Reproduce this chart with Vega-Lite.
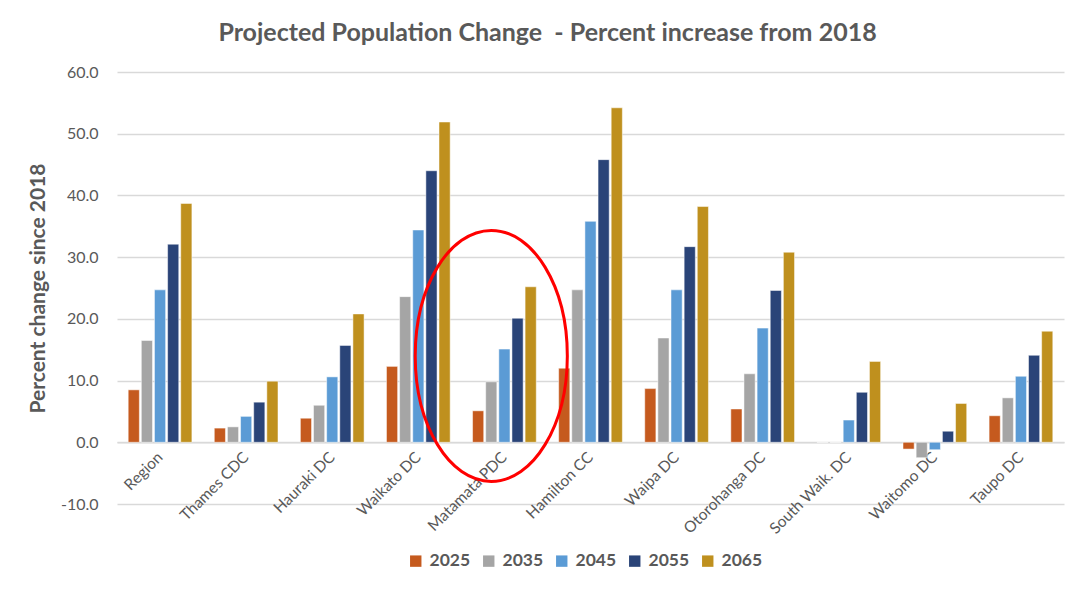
{
  "$schema": "https://vega.github.io/schema/vega-lite/v6.json",
  "width": 947,
  "height": 432,
  "autosize": {"type": "none"},
  "padding": {"left": 117, "top": 72, "right": 5, "bottom": 97},
  "background": "white",
  "title": {
    "text": "Projected Population Change \u00a0- Percent increase from 2018",
    "font": "Lato",
    "fontSize": 25,
    "fontWeight": "bold",
    "color": "#595959",
    "anchor": "middle",
    "dx": -43,
    "offset": 18
  },
  "config": {
    "view": {"stroke": null},
    "font": "Lato"
  },
  "datasets": {
    "pop": [
      {"region": "Region", "year": "2025", "value": 8.5},
      {"region": "Region", "year": "2035", "value": 16.5},
      {"region": "Region", "year": "2045", "value": 24.7},
      {"region": "Region", "year": "2055", "value": 32.1},
      {"region": "Region", "year": "2065", "value": 38.7},
      {"region": "Thames CDC", "year": "2025", "value": 2.3},
      {"region": "Thames CDC", "year": "2035", "value": 2.5},
      {"region": "Thames CDC", "year": "2045", "value": 4.2},
      {"region": "Thames CDC", "year": "2055", "value": 6.5},
      {"region": "Thames CDC", "year": "2065", "value": 9.9},
      {"region": "Hauraki DC", "year": "2025", "value": 3.9},
      {"region": "Hauraki DC", "year": "2035", "value": 6.0},
      {"region": "Hauraki DC", "year": "2045", "value": 10.6},
      {"region": "Hauraki DC", "year": "2055", "value": 15.7},
      {"region": "Hauraki DC", "year": "2065", "value": 20.8},
      {"region": "Waikato DC", "year": "2025", "value": 12.3},
      {"region": "Waikato DC", "year": "2035", "value": 23.6},
      {"region": "Waikato DC", "year": "2045", "value": 34.4},
      {"region": "Waikato DC", "year": "2055", "value": 44.0},
      {"region": "Waikato DC", "year": "2065", "value": 51.9},
      {"region": "Matamata PDC", "year": "2025", "value": 5.1},
      {"region": "Matamata PDC", "year": "2035", "value": 9.8},
      {"region": "Matamata PDC", "year": "2045", "value": 15.1},
      {"region": "Matamata PDC", "year": "2055", "value": 20.1},
      {"region": "Matamata PDC", "year": "2065", "value": 25.2},
      {"region": "Hamilton CC", "year": "2025", "value": 12.0},
      {"region": "Hamilton CC", "year": "2035", "value": 24.7},
      {"region": "Hamilton CC", "year": "2045", "value": 35.8},
      {"region": "Hamilton CC", "year": "2055", "value": 45.8},
      {"region": "Hamilton CC", "year": "2065", "value": 54.2},
      {"region": "Waipa DC", "year": "2025", "value": 8.7},
      {"region": "Waipa DC", "year": "2035", "value": 16.9},
      {"region": "Waipa DC", "year": "2045", "value": 24.7},
      {"region": "Waipa DC", "year": "2055", "value": 31.7},
      {"region": "Waipa DC", "year": "2065", "value": 38.2},
      {"region": "Otorohanga DC", "year": "2025", "value": 5.4},
      {"region": "Otorohanga DC", "year": "2035", "value": 11.1},
      {"region": "Otorohanga DC", "year": "2045", "value": 18.5},
      {"region": "Otorohanga DC", "year": "2055", "value": 24.6},
      {"region": "Otorohanga DC", "year": "2065", "value": 30.8},
      {"region": "South Waik. DC", "year": "2025", "value": 0},
      {"region": "South Waik. DC", "year": "2035", "value": 0},
      {"region": "South Waik. DC", "year": "2045", "value": 3.6},
      {"region": "South Waik. DC", "year": "2055", "value": 8.1},
      {"region": "South Waik. DC", "year": "2065", "value": 13.1},
      {"region": "Waitomo DC", "year": "2025", "value": -1.1},
      {"region": "Waitomo DC", "year": "2035", "value": -2.5},
      {"region": "Waitomo DC", "year": "2045", "value": -1.2},
      {"region": "Waitomo DC", "year": "2055", "value": 1.8},
      {"region": "Waitomo DC", "year": "2065", "value": 6.3},
      {"region": "Taupo DC", "year": "2025", "value": 4.3},
      {"region": "Taupo DC", "year": "2035", "value": 7.2},
      {"region": "Taupo DC", "year": "2045", "value": 10.7},
      {"region": "Taupo DC", "year": "2055", "value": 14.1},
      {"region": "Taupo DC", "year": "2065", "value": 18.0}
    ],
    "highlight": [
      {"region": "Matamata PDC", "year": "2035", "value": 14}
    ]
  },
  "encoding": {
    "x": {
      "field": "region",
      "type": "nominal",
      "sort": null,
      "scale": {"paddingInner": 0.26, "paddingOuter": 0.13},
      "axis": {
        "title": null,
        "offset": -61.7,
        "labelAngle": -45,
        "labelAlign": "right",
        "labelBaseline": "middle",
        "labelPadding": 12,
        "labelFontSize": 15.5,
        "labelColor": "#595959",
        "labelFont": "Lato",
        "ticks": false,
        "domainColor": "#d9d9d9",
        "domainWidth": 1.5,
        "grid": false
      }
    },
    "xOffset": {
      "field": "year",
      "type": "nominal",
      "scale": {"paddingInner": 0.15, "paddingOuter": 0}
    },
    "y": {
      "field": "value",
      "type": "quantitative",
      "scale": {"domain": [-10, 60], "nice": false},
      "axis": {
        "title": "Percent change since 2018",
        "titleFontSize": 21,
        "titleFontWeight": "bold",
        "titleColor": "#595959",
        "titleFont": "Lato",
        "titlePadding": 12,
        "values": [-10, 0, 10, 20, 30, 40, 50, 60],
        "labelExpr": "datum.value < 0 ? '-' + format(-datum.value, '.1f') : format(datum.value, '.1f')",
        "labelFontSize": 16,
        "labelColor": "#595959",
        "labelFont": "Lato",
        "labelPadding": 19,
        "ticks": false,
        "domain": false,
        "gridColor": "#d9d9d9",
        "gridWidth": 1.5
      }
    }
  },
  "layer": [
    {
      "data": {"name": "pop"},
      "mark": {"type": "bar", "stroke": "white", "strokeWidth": 0.5},
      "encoding": {
        "color": {
          "field": "year",
          "type": "nominal",
          "scale": {
            "domain": ["2025", "2035", "2045", "2055", "2065"],
            "range": ["#C55A1E", "#A5A5A5", "#5B9BD5", "#2A4478", "#BF901E"]
          },
          "legend": {
            "orient": "none",
            "legendX": 290,
            "legendY": 480,
            "direction": "horizontal",
            "title": null,
            "symbolType": "square",
            "symbolSize": 130,
            "symbolStrokeWidth": 0,
            "labelFontSize": 17.5,
            "labelFontWeight": "bold",
            "labelColor": "#595959",
            "labelFont": "Lato",
            "labelOffset": 5,
            "columnPadding": 9
          }
        }
      }
    },
    {
      "data": {"name": "highlight"},
      "mark": {
        "type": "point",
        "shape": "M0.606,0C0.606,0.5523 0.3347,1 0,1C-0.3347,1 -0.606,0.5523 -0.606,0C-0.606,-0.5523 -0.3347,-1 0,-1C0.3347,-1 0.606,-0.5523 0.606,0Z",
        "size": 63001,
        "filled": false,
        "stroke": "#FF0000",
        "strokeWidth": 3,
        "opacity": 1
      },
      "encoding": {}
    }
  ]
}
